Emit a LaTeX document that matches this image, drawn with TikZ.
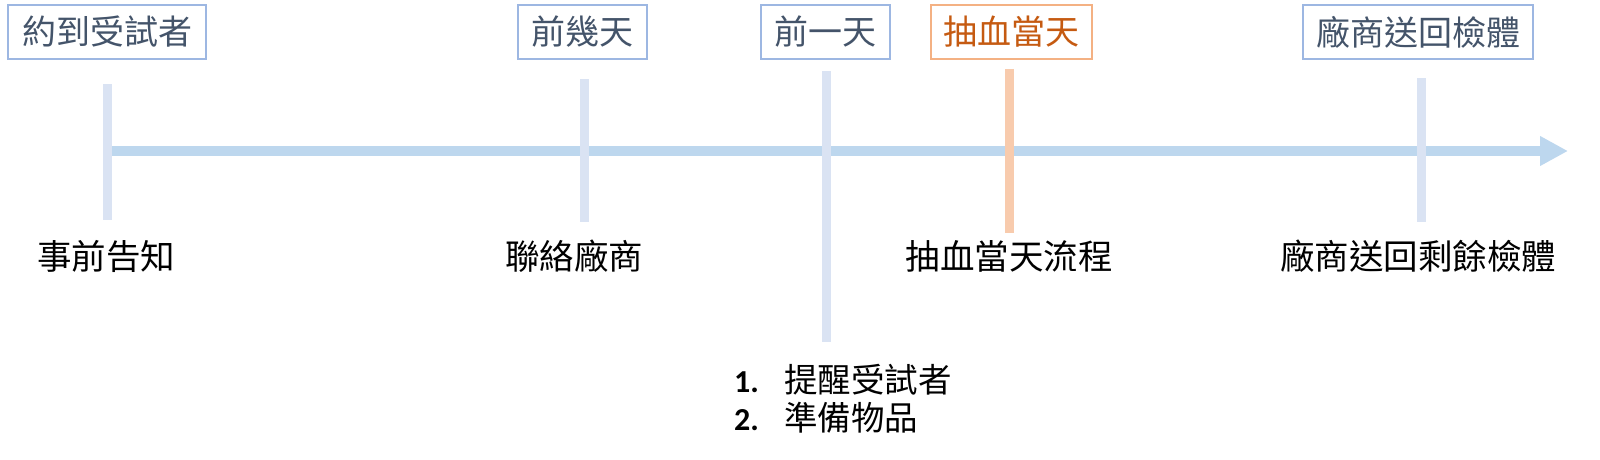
\documentclass[tikz,border=0pt]{standalone}
\usepackage{fontspec}
\setmainfont{Carlito}
\newfontfamily\cjk{Noto Sans CJK TC}
\usetikzlibrary{arrows.meta}
\definecolor{boxblue}{HTML}{9DB7E2}
\definecolor{boxtext}{HTML}{44546A}
\definecolor{boxorange}{HTML}{F4B183}
\definecolor{textorange}{HTML}{C55A11}
\definecolor{axisblue}{HTML}{BDD7EE}
\definecolor{tickblue}{HTML}{DAE3F3}
\definecolor{tickorange}{HTML}{F8CBAD}
\tikzset{
  phasebox/.style={draw=boxblue, line width=1.5pt, text=boxtext, minimum height=54pt, inner sep=0pt, font=\cjk\fontsize{34}{38}\selectfont},
  phaseboxhot/.style={phasebox, draw=boxorange, text=textorange},
  tickline/.style={draw=tickblue, line width=9pt},
  tickhot/.style={draw=tickorange, line width=9pt},
  axisline/.style={draw=axisblue, line width=10pt, -{Triangle[length=28pt,width=28pt]}},
  steplabel/.style={text=black, inner sep=0pt, font=\cjk\fontsize{34.5}{38}\selectfont}
}
\begin{document}
\begin{tikzpicture}[x=1pt,y=-1pt]
\useasboundingbox (0,0) rectangle (1600,460);
% main axis
\coordinate (axs) at (107,151);
\coordinate (axe) at (1568,151);
\draw[axisline] (axs) -- (axe);
% ticks
\coordinate (t1a) at (107,84);  \coordinate (t1b) at (107,220);
\coordinate (t2a) at (584,79);  \coordinate (t2b) at (584,222);
\coordinate (t3a) at (826,71);  \coordinate (t3b) at (826,342);
\coordinate (t4a) at (1009,69); \coordinate (t4b) at (1009,233);
\coordinate (t5a) at (1421,78); \coordinate (t5b) at (1421,222);
\draw[tickline] (t1a) -- (t1b);
\draw[tickline] (t2a) -- (t2b);
\draw[tickline] (t3a) -- (t3b);
\draw[tickhot] (t4a) -- (t4b);
\draw[tickline] (t5a) -- (t5b);
% boxes
\node[phasebox, minimum width=198pt] (b1) at (107,32) {約到受試者};
\node[phasebox, minimum width=129pt] (b2) at (582.5,32) {前幾天};
\node[phasebox, minimum width=129pt] (b3) at (825.5,32) {前一天};
\node[phaseboxhot, minimum width=161pt] (b4) at (1011.5,32) {抽血當天};
\node[phasebox, minimum width=230pt] (b5) at (1418,32) {廠商送回檢體};
% labels
\node[steplabel] (l1) at (106,256) {事前告知};
\node[steplabel] (l2) at (574,256) {聯絡廠商};
\node[steplabel] (l4) at (1009,256) {抽血當天流程};
\node[steplabel] (l5) at (1418,256) {廠商送回剩餘檢體};
\node[steplabel, anchor=west, font=\cjk\fontsize{33.5}{38}\selectfont] (n1) at (734,380) {\makebox[50pt][l]{\fontsize{32}{36}\selectfont\rmfamily\bfseries 1.}提醒受試者};
\node[steplabel, anchor=west, font=\cjk\fontsize{33.5}{38}\selectfont] (n2) at (734,418) {\makebox[50pt][l]{\fontsize{32}{36}\selectfont\rmfamily\bfseries 2.}準備物品};
\end{tikzpicture}
\end{document}
